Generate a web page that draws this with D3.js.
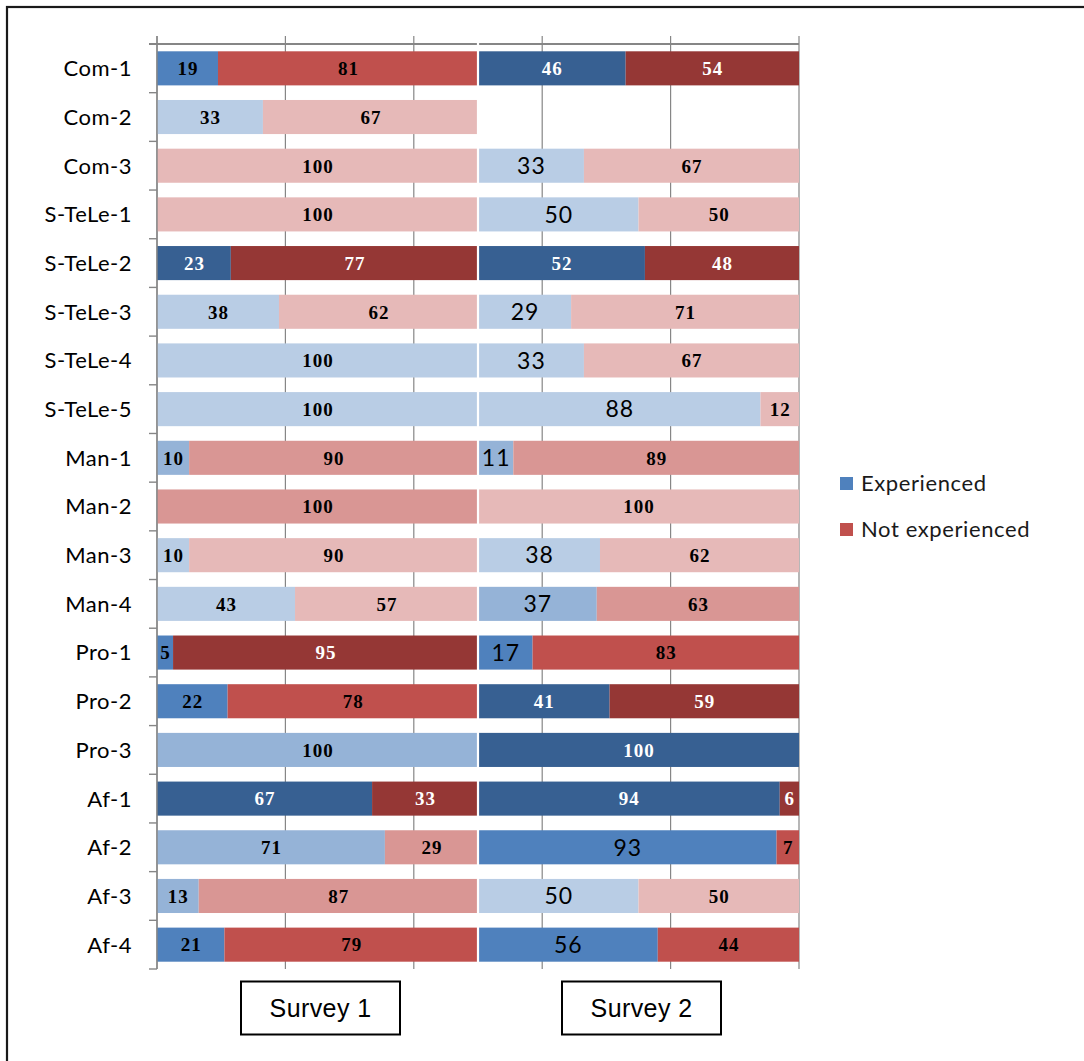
<!DOCTYPE html>
<html>
<head>
<meta charset="utf-8">
<script src="https://cdn.jsdelivr.net/npm/d3@7"></script>
<style>
  html, body { margin: 0; padding: 0; background: #fff; }
  svg { display: block; }
</style>
</head>
<body>
<svg id="chart" width="1084" height="1061"></svg>
<script>
// Items surveyed, top to bottom
const categories = ["Com-1", "Com-2", "Com-3", "S-TeLe-1", "S-TeLe-2", "S-TeLe-3", "S-TeLe-4",
  "S-TeLe-5", "Man-1", "Man-2", "Man-3", "Man-4", "Pro-1", "Pro-2", "Pro-3",
  "Af-1", "Af-2", "Af-3", "Af-4"];

// Percentages per survey (null = item not asked)
const survey1Experienced    = [19, 33, 0, 0, 23, 38, 100, 100, 10, 0, 10, 43, 5, 22, 100, 67, 71, 13, 21];
const survey1NotExperienced = [81, 67, 100, 100, 77, 62, 0, 0, 90, 100, 90, 57, 95, 78, 0, 33, 29, 87, 79];
const survey2Experienced    = [46, null, 33, 50, 52, 29, 33, 88, 11, 0, 38, 37, 17, 41, 100, 94, 93, 50, 56];
const survey2NotExperienced = [54, null, 67, 50, 48, 71, 67, 12, 89, 100, 62, 63, 83, 59, 0, 6, 7, 50, 44];

// Shade level per segment (0 = strongest, 3 = weakest)
const survey1ExperiencedLevel    = [1, 3, 3, 3, 0, 3, 3, 3, 2, 2, 3, 3, 1, 1, 2, 0, 2, 2, 1];
const survey1NotExperiencedLevel = [1, 3, 3, 3, 0, 3, 3, 3, 2, 2, 3, 3, 0, 1, 2, 0, 2, 2, 1];
const survey2ExperiencedLevel    = [0, null, 3, 3, 0, 3, 3, 3, 2, 3, 3, 2, 1, 0, 0, 0, 1, 3, 1];
const survey2NotExperiencedLevel = [0, null, 3, 3, 0, 3, 3, 3, 2, 3, 3, 2, 1, 0, 0, 0, 1, 3, 1];

const surveys = ["Survey 1", "Survey 2"];
const seriesNames = ["Experienced", "Not experienced"];
const valueTicks = [0, 40, 80, 120, 160, 200];

const palette = {
  "Experienced":     ["#376092", "#4F81BD", "#95B3D7", "#B9CDE5"],
  "Not experienced": ["#953735", "#C0504D", "#D99694", "#E6B9B8"]
};

const svg = d3.select("#chart");

// outer frame
svg.append("rect")
  .attr("x", 7).attr("y", 7).attr("width", 1100).attr("height", 1100)
  .attr("fill", "none").attr("stroke", "#1a1a1a").attr("stroke-width", 2.2);

const plotTop = 44, plotBottom = 969;
const x = d3.scaleLinear().domain([0, 200]).range([157, 799]);
const y = d3.scaleBand().domain(categories).range([plotTop, plotBottom]).paddingInner(0.3).paddingOuter(0.15);
const band = d3.scaleBand().domain(categories).range([plotTop, plotBottom]);

const grid = "#868686";

// vertical gridlines with ticks above the top axis
svg.append("g").selectAll("line").data(valueTicks).join("line")
  .attr("x1", d => x(d)).attr("x2", d => x(d))
  .attr("y1", plotTop - 8).attr("y2", plotBottom)
  .attr("stroke", grid).attr("stroke-width", 1.2);

// top axis line
svg.append("line")
  .attr("x1", x(0) - 8).attr("x2", x(200)).attr("y1", plotTop).attr("y2", plotTop)
  .attr("stroke", grid).attr("stroke-width", 1.8);

// category axis ticks
const boundaries = categories.map(c => band(c)).concat([plotBottom]);
svg.append("g").selectAll("line").data(boundaries).join("line")
  .attr("x1", x(0) - 8).attr("x2", x(0))
  .attr("y1", d => d).attr("y2", d => d)
  .attr("stroke", grid).attr("stroke-width", 1.4);

// build segments
const segs = [];
const sets = [
  [survey1Experienced, survey1NotExperienced, survey1ExperiencedLevel, survey1NotExperiencedLevel, 0],
  [survey2Experienced, survey2NotExperienced, survey2ExperiencedLevel, survey2NotExperiencedLevel, 1]
];
sets.forEach(([exp, notExp, expLvl, notLvl, s]) => {
  categories.forEach((c, i) => {
    if (exp[i] == null) return;
    const base = s * 100;
    if (exp[i] > 0) segs.push({cat: c, s, series: seriesNames[0], v: exp[i], x0: base, x1: base + exp[i], lvl: expLvl[i]});
    if (notExp[i] > 0) segs.push({cat: c, s, series: seriesNames[1], v: notExp[i], x0: base + exp[i], x1: base + exp[i] + notExp[i], lvl: notLvl[i]});
  });
});

svg.append("g").selectAll("rect").data(segs).join("rect")
  .attr("x", d => x(d.x0)).attr("width", d => x(d.x1) - x(d.x0))
  .attr("y", d => y(d.cat)).attr("height", y.bandwidth())
  .attr("fill", d => palette[d.series][d.lvl]);

// value labels: the lighter second-survey "experienced" figures use a larger sans face
const bigSans = d => d.s === 1 && d.series === seriesNames[0] && d.lvl > 0;
svg.append("g").selectAll("text").data(segs).join("text")
  .attr("x", d => (x(d.x0) + x(d.x1)) / 2 + 0.5)
  .attr("y", d => y(d.cat) + y.bandwidth() / 2)
  .attr("dy", "0.36em")
  .attr("text-anchor", "middle")
  .attr("fill", d => d.lvl === 0 ? "#ffffff" : "#000000")
  .style("font-family", d => bigSans(d) ? "Lato, 'Open Sans', sans-serif" : "'Liberation Serif', serif")
  .style("font-size", d => bigSans(d) ? "23px" : "19px")
  .style("font-weight", d => bigSans(d) ? "normal" : "bold")
  .style("letter-spacing", "1px")
  .text(d => d.v);

// divider between the two surveys
svg.append("line")
  .attr("x1", x(100)).attr("x2", x(100)).attr("y1", plotTop - 8).attr("y2", plotBottom)
  .attr("stroke", "#ffffff").attr("stroke-width", 2.2);

// category axis line
svg.append("line")
  .attr("x1", x(0)).attr("x2", x(0)).attr("y1", plotTop - 8).attr("y2", plotBottom)
  .attr("stroke", grid).attr("stroke-width", 1.4);

// category labels
svg.append("g").selectAll("text").data(categories).join("text")
  .attr("x", 132).attr("y", d => band(d) + band.bandwidth() / 2)
  .attr("dy", "0.36em").attr("text-anchor", "end")
  .style("font-family", "Lato, sans-serif").style("font-size", "22px")
  .style("letter-spacing", "0.5px").attr("fill", "#000")
  .text(d => d);

// survey captions
const cap = svg.append("g").selectAll("g").data(surveys).join("g")
  .attr("transform", (d, i) => `translate(${x(50 + i * 100) + 3},1008)`);
cap.append("rect").attr("x", -79.5).attr("y", -26.5).attr("width", 159).attr("height", 53)
  .attr("fill", "#fff").attr("stroke", "#000").attr("stroke-width", 2);
cap.append("text").attr("text-anchor", "middle").attr("dy", "0.36em")
  .style("font-family", "'Liberation Sans', Arial, sans-serif").style("font-size", "25px")
  .style("letter-spacing", "0.4px")
  .text(d => d);

// legend
const legend = svg.append("g").selectAll("g").data(seriesNames).join("g")
  .attr("transform", (d, i) => `translate(840,${477 + i * 46})`);
legend.append("rect").attr("width", 13).attr("height", 13).attr("fill", d => palette[d][1]);
legend.append("text").attr("x", 21).attr("y", 6.5).attr("dy", "0.36em")
  .style("font-family", "Lato, sans-serif").style("font-size", "22px")
  .style("letter-spacing", "0.6px").attr("fill", "#1a1a1a")
  .text(d => d);
</script>
</body>
</html>
